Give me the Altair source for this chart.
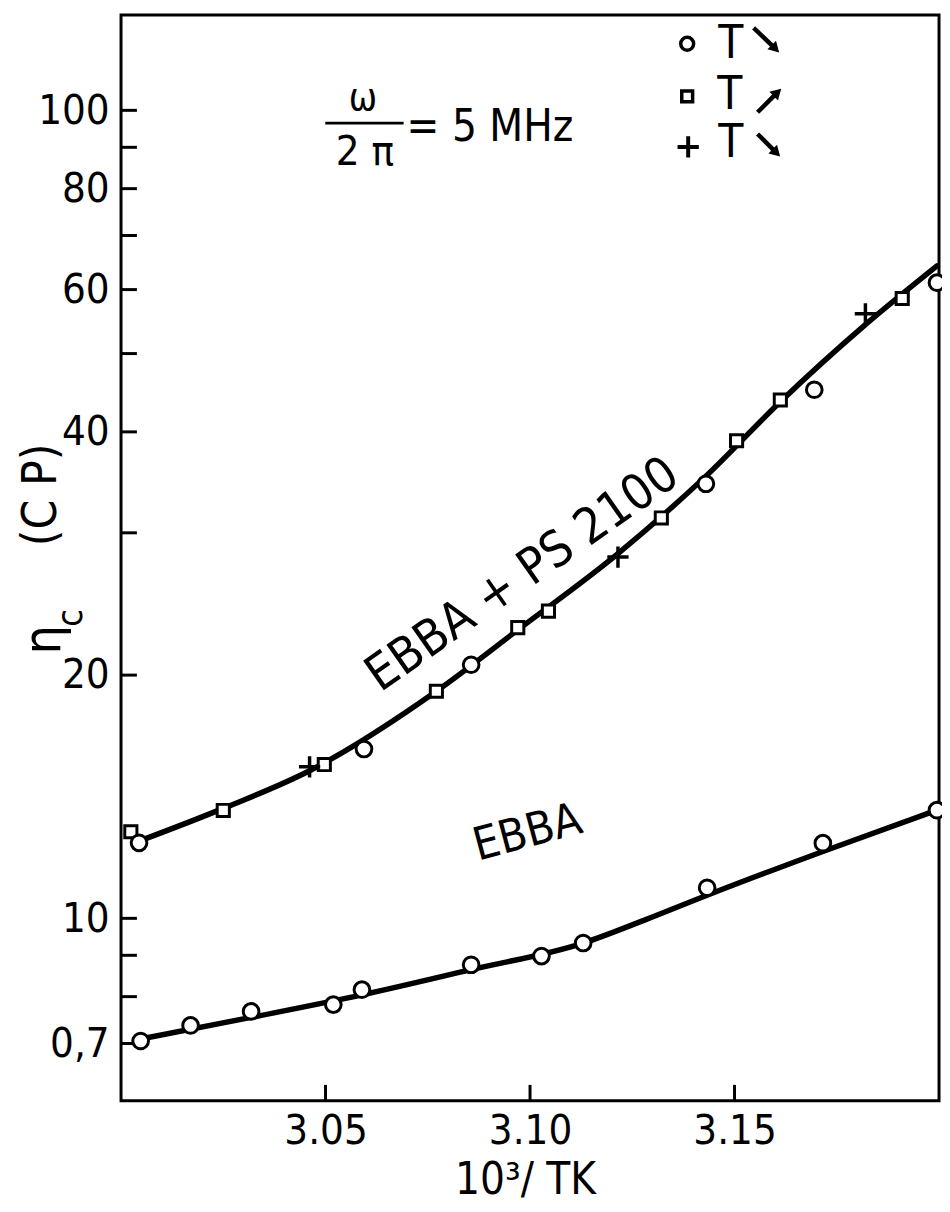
import altair as alt
import pandas as pd

FONT = "DejaVu Sans Condensed, DejaVu Sans, sans-serif"

# ---- data ----
upper_circle_x = [3.0044, 3.0594, 3.0856, 3.1430, 3.1695, 3.1995]
upper_circle_y = [12.4, 16.2, 20.6, 34.5, 45.1, 61.2]
upper_square_x = [3.0024, 3.0250, 3.0497, 3.0771, 3.0970, 3.1045, 3.1321, 3.1505, 3.1612, 3.1910]
upper_square_y = [12.8, 13.6, 15.5, 19.1, 22.9, 24.0, 31.3, 39.0, 43.8, 58.5]
upper_plus_x = [3.0461, 3.1215, 3.1820]
upper_plus_y = [15.4, 28.0, 56.0]
lower_circle_x = [3.0048, 3.0170, 3.0318, 3.0519, 3.0589, 3.0856, 3.1028, 3.1130, 3.1433, 3.1716, 3.1995]
lower_circle_y = [7.05, 7.37, 7.67, 7.82, 8.16, 8.76, 8.98, 9.32, 10.91, 12.39, 13.61]

upper_fit_x = [3.0044, 3.025, 3.0461, 3.0771, 3.097, 3.1215, 3.143, 3.1612, 3.182, 3.1995]
upper_fit_y = [12.46, 13.68, 15.23, 19.1, 22.75, 28.28, 35.26, 43.59, 54.3, 64.2]
lower_fit_x = [3.0048, 3.0318, 3.0589, 3.0856, 3.1130, 3.1280, 3.1433, 3.1716, 3.1995]
lower_fit_y = [7.09, 7.54, 8.04, 8.64, 9.32, 9.95, 10.68, 12.1, 13.61]

y_label_values = [7, 10, 20, 40, 60, 80, 100]
y_tick_values = [7, 8, 9, 10, 20, 30, 40, 50, 60, 70, 80, 90, 100]
x_tick_values = [3.05, 3.10, 3.15]

curve_labels = ["EBBA + PS 2100", "EBBA"]
curve_label_x = [3.0982, 3.0994]
curve_label_y = [26.6, 12.75]

# ---- layout ----
W, H = 825, 1095
OX, OY = 122, 10  # plot origin on the page

xscale = alt.Scale(domain=[3.0, 3.2], nice=False, zero=False)
yscale = alt.Scale(type="log", domain=[5.946, 131.2], nice=False)

xaxis = alt.Axis(values=x_tick_values, format=".2f", tickSize=0, domain=False, grid=False,
                 labelFontSize=42, labelFont=FONT, labelPadding=10, labelColor="black", title=None)
yaxis = alt.Axis(values=y_label_values, format="d", tickSize=0, domain=False, grid=False,
                 labelExpr="datum.value == 7 ? '0,7' : datum.label",
                 labelFontSize=42, labelFont=FONT, labelPadding=12, labelColor="black", title=None)


def X(f="x"):
    return alt.X(f"{f}:Q", scale=xscale, axis=xaxis)


def Y(f="y"):
    return alt.Y(f"{f}:Q", scale=yscale, axis=yaxis)


def df(xs, ys):
    return pd.DataFrame({"x": xs, "y": ys})


dummy = pd.DataFrame({"a": [0]})
layers = []

# plot frame
layers.append(alt.Chart(dummy).mark_rect(fillOpacity=0, stroke="black", strokeWidth=3)
              .encode(x=alt.value(0), x2=alt.value(W), y=alt.value(0), y2=alt.value(H)))

# fitted curves
for fx, fy in [(upper_fit_x, upper_fit_y), (lower_fit_x, lower_fit_y)]:
    layers.append(alt.Chart(df(fx, fy)).mark_line(interpolate="monotone", color="black",
                                                   strokeWidth=5.5, strokeCap="round")
                  .encode(x=X(), y=Y()))

# inward ticks
layers.append(alt.Chart(pd.DataFrame({"y": y_tick_values})).mark_rule(color="black", strokeWidth=3)
              .encode(y=Y(), x=alt.value(0), x2=alt.value(16)))
layers.append(alt.Chart(pd.DataFrame({"x": x_tick_values})).mark_rule(color="black", strokeWidth=3)
              .encode(x=X(), y=alt.value(H), y2=alt.value(H - 16)))

# data markers
PLUS = "M-1,0L1,0M0,-1L0,1"
layers.append(alt.Chart(df(upper_square_x, upper_square_y))
              .mark_point(shape="square", size=150, filled=True, fill="white", stroke="black",
                          strokeWidth=3, opacity=1)
              .encode(x=X(), y=Y()))
layers.append(alt.Chart(df(upper_circle_x + lower_circle_x, upper_circle_y + lower_circle_y))
              .mark_point(shape="circle", size=250, filled=True, fill="white", stroke="black",
                          strokeWidth=3, opacity=1)
              .encode(x=X(), y=Y()))
layers.append(alt.Chart(df(upper_plus_x, upper_plus_y))
              .mark_point(shape=PLUS, size=460, filled=False, stroke="black", strokeWidth=3.5, opacity=1)
              .encode(x=X(), y=Y()))

# curve labels
layers.append(alt.Chart(pd.DataFrame({"x": curve_label_x[:1], "y": curve_label_y[:1], "t": curve_labels[:1]}))
              .mark_text(angle=325, fontSize=50, font=FONT, color="black")
              .encode(x=X(), y=Y(), text="t:N"))
layers.append(alt.Chart(pd.DataFrame({"x": curve_label_x[1:], "y": curve_label_y[1:], "t": curve_labels[1:]}))
              .mark_text(angle=345, fontSize=46, font=FONT, color="black")
              .encode(x=X(), y=Y(), text="t:N"))


def text(t, px, py, size=40, angle=0, align="center", baseline="middle"):
    kw = dict(text=t, fontSize=size, font=FONT, align=align, baseline=baseline, color="black")
    if angle:
        kw["angle"] = angle
    return alt.Chart(dummy).mark_text(**kw).encode(x=alt.value(px - OX), y=alt.value(py - OY))


def sym(shape, px, py, size, filled=False, angle=0, sw=3):
    kw = dict(shape=shape, size=size, opacity=1)
    if filled:
        kw.update(filled=True, color="black", strokeWidth=0)
    else:
        kw.update(filled=True, fill="white", stroke="black", strokeWidth=sw)
    if angle:
        kw["angle"] = angle
    return alt.Chart(dummy).mark_point(**kw).encode(x=alt.value(px - OX), y=alt.value(py - OY))


def seg(x1, y1, x2, y2, sw=4.5):
    return alt.Chart(dummy).mark_rule(color="black", strokeWidth=sw).encode(
        x=alt.value(x1 - OX), y=alt.value(y1 - OY), x2=alt.value(x2 - OX), y2=alt.value(y2 - OY))


# frequency note
layers += [
    text("ω", 366, 95, size=38),
    seg(328, 119, 407, 119, sw=3),
    text("2 π", 368, 148, size=42),
    text("= 5 MHz", 410, 124, size=44, align="left"),
]

# legend (top right)
layers += [
    sym("circle", 693, 39, 170, sw=3.5),
    text("T", 737, 39, size=46),
    seg(760, 23, 779, 41), sym("triangle-right", 782, 44, 150, filled=True, angle=45),
    sym("square", 693, 92, 120, sw=3.5),
    text("T", 736, 91, size=46),
    seg(764, 108, 781, 91), sym("triangle-right", 784, 88, 150, filled=True, angle=315),
    sym(PLUS, 694, 143, 460, sw=4),
    text("T", 737, 139, size=46),
    seg(764, 130, 780, 146), sym("triangle-right", 783, 149, 150, filled=True, angle=45),
]

# axis titles
layers += [
    text("η", 44, 640, size=52, angle=270),
    text("c", 72, 618, size=36, angle=270),
    text("(C P)", 42, 494, size=48, angle=270),
    text("10³/ TK", 530, 1186, size=44),
]

chart = alt.layer(*layers).properties(
    width=W, height=H,
    padding={"left": 114, "top": 2, "right": 3, "bottom": 98},
    autosize=alt.AutoSizeParams(type="none"),
).configure_view(strokeWidth=0).configure(background="white")

chart.save("out.html", embed_options={"renderer": "svg", "actions": False})
